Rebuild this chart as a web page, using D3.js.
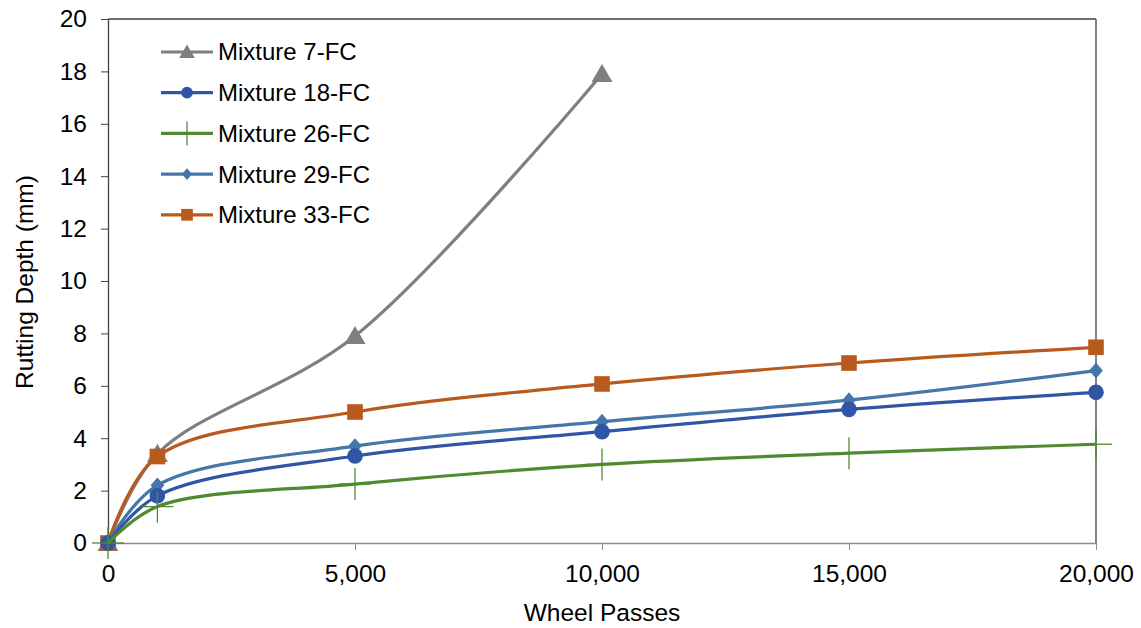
<!DOCTYPE html>
<html><head><meta charset="utf-8">
<script src="https://cdn.jsdelivr.net/npm/d3@7"></script>
<style>body{margin:0;background:#fff;} text{font-family:"Liberation Sans",Arial,sans-serif;fill:#000;}</style>
</head><body>
<svg id="c" width="1141" height="628"></svg>
<script>
const passes = [0, 1000, 5000, 10000, 15000, 20000];
const mix7  = [0, 3.4, 7.9, 17.9, null, null];
const mix18 = [0, 1.8, 3.32, 4.25, 5.1, 5.75];
const mix26 = [0, 1.39, 2.25, 3.0, 3.43, 3.77];
const mix29 = [0, 2.2, 3.7, 4.63, 5.45, 6.58];
const mix33 = [0, 3.3, 5.0, 6.07, 6.87, 7.47];
const seriesNames = ["Mixture 7-FC","Mixture 18-FC","Mixture 26-FC","Mixture 29-FC","Mixture 33-FC"];
const seriesColors = ["#7f7f7f","#2f55a4","#4f8a30","#4477a8","#b85a1d"];
const seriesMarkers = ["triangle","circle","plus","diamond","square"];
const xTicks = [0, 5000, 10000, 15000, 20000];
const yTicks = [0,2,4,6,8,10,12,14,16,18,20];

const allVals = [mix7, mix18, mix26, mix29, mix33];
const svg = d3.select("#c");
const L = 108, R = 1096, T = 19, B = 543;
const x = d3.scaleLinear().domain([0,20000]).range([L,R]);
const y = d3.scaleLinear().domain([0,20]).range([B,T]);
const FS = 24.5;

// frame top/right
svg.append("line").attr("x1",L).attr("x2",R).attr("y1",T).attr("y2",T).attr("stroke","#404040").attr("stroke-width",1.3);
svg.append("line").attr("x1",R).attr("x2",R).attr("y1",T).attr("y2",B).attr("stroke","#404040").attr("stroke-width",1.3);

// x axis
const xa = svg.append("g").attr("transform",`translate(0,${B})`)
  .call(d3.axisBottom(x).tickValues(xTicks).tickSize(7).tickSizeOuter(0).tickFormat(d3.format(",")));
xa.select(".domain").attr("stroke","#8c8c8c").attr("stroke-width",1.3);
xa.selectAll(".tick line").attr("stroke","#8c8c8c");
xa.selectAll("text").attr("font-size",FS).attr("y",22).style("font-family","Liberation Sans, Arial");
// y axis
const ya = svg.append("g").attr("transform",`translate(${L},0)`)
  .call(d3.axisLeft(y).tickValues(yTicks).tickSize(7).tickSizeOuter(0));
ya.select(".domain").attr("stroke","#404040").attr("stroke-width",1.3);
ya.selectAll(".tick line").attr("stroke","#404040");
ya.selectAll("text").attr("font-size",FS).attr("x",-21).style("font-family","Liberation Sans, Arial");

svg.append("text").attr("x",602).attr("y",612).attr("dy","0.35em").attr("text-anchor","middle").attr("font-size",FS).text("Wheel Passes");
svg.append("text").attr("transform","translate(24,282) rotate(-90)").attr("dy","0.35em").attr("text-anchor","middle").attr("font-size",FS).text("Rutting Depth (mm)");

function marker(g, type, cx, cy, color, scale){
  const s = scale||1;
  if(type==="triangle"){
    g.append("path").attr("d",d3.symbol(d3.symbolTriangle, 190*s*s)()).attr("transform",`translate(${cx},${cy+2*s})`).attr("fill",color);
  } else if(type==="circle"){
    g.append("circle").attr("cx",cx).attr("cy",cy).attr("r",7.8*s).attr("fill",color);
  } else if(type==="diamond"){
    g.append("path").attr("d",d3.symbol(d3.symbolDiamond2, 120*s*s)()).attr("transform",`translate(${cx},${cy}) scale(1,1.15)`).attr("fill",color);
  } else if(type==="square"){
    g.append("rect").attr("x",cx-7.8*s).attr("y",cy-7.8*s).attr("width",15.6*s).attr("height",15.6*s).attr("fill",color);
  } else if(type==="plus"){
    g.append("line").attr("x1",cx).attr("x2",cx).attr("y1",cy-16*s).attr("y2",cy+16*s).attr("stroke",color).attr("stroke-width",1.3);
    g.append("line").attr("x1",cx-16*s).attr("x2",cx+16*s).attr("y1",cy).attr("y2",cy).attr("stroke",color).attr("stroke-width",1.3);
  }
}

const line = d3.line().defined(d=>d.v!=null).x(d=>x(d.p)).y(d=>y(d.v)).curve(d3.curveCatmullRom.alpha(0.5));
const order = [0,4,3,1,2];
order.forEach(i=>{
  const data = passes.map((p,k)=>({p, v: allVals[i][k]}));
  const g = svg.append("g");
  g.append("path").datum(data).attr("d",line).attr("fill","none").attr("stroke",seriesColors[i]).attr("stroke-width",3.2);
  data.filter(d=>d.v!=null).forEach(d=>marker(g, seriesMarkers[i], x(d.p), y(d.v), seriesColors[i], 1));
});

// legend
const leg = svg.append("g");
seriesNames.forEach((n,i)=>{
  const cy = 52 + i*40.7;
  leg.append("line").attr("x1",161).attr("x2",213).attr("y1",cy).attr("y2",cy).attr("stroke",seriesColors[i]).attr("stroke-width",3.2);
  marker(leg, seriesMarkers[i], 187, cy, seriesColors[i], 0.75);
  leg.append("text").attr("x",218).attr("y",cy).attr("dy","0.35em").attr("font-size",24).text(n);
});
</script>
</body></html>
